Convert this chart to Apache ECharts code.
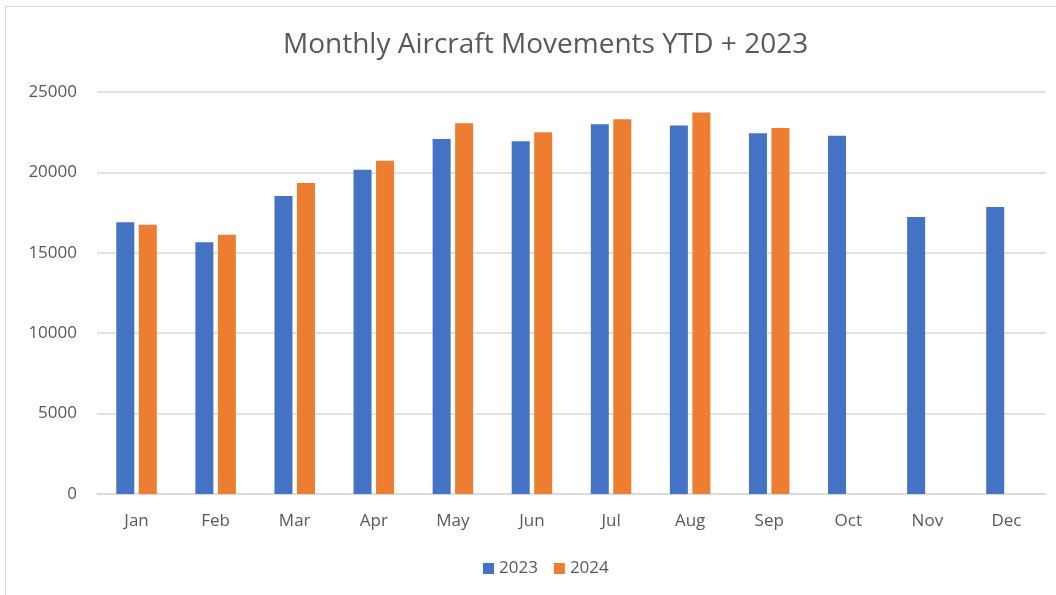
<!DOCTYPE html>
<html>
<head>
<meta charset="utf-8">
<script src="https://cdn.jsdelivr.net/npm/echarts@6/dist/echarts.min.js"></script>
<style>
  html, body { margin: 0; padding: 0; background: #fff; }
  .frame { position: absolute; left: 5px; top: 6px; width: 1060px; height: 600px; border: 1px solid #d9d9d9; }
  #chart { width: 1056px; height: 595px; }
</style>
</head>
<body>
<div class="frame"></div>
<div id="chart"></div>
<script>
// 月份与两年的起降架次
const months = ['Jan', 'Feb', 'Mar', 'Apr', 'May', 'Jun', 'Jul', 'Aug', 'Sep', 'Oct', 'Nov', 'Dec']
const movements2023 = [16900, 15650, 18530, 20170, 22080, 21930, 22990, 22910, 22430, 22280, 17230, 17850]
const movements2024 = [16750, 16130, 19340, 20730, 23050, 22490, 23300, 23730, 22760, null, null, null]
const yTicks = [0, 5000, 10000, 15000, 20000, 25000]

const myChart = echarts.init(document.getElementById('chart'))
const font = '"Open Sans", "Noto Sans", sans-serif'
const option = {
  animation: false,
  textStyle: { fontFamily: font, color: '#595959' },
  title: {
    text: 'Monthly Aircraft Movements YTD + 2023',
    left: 278,
    top: 26,
    textStyle: { fontFamily: font, fontSize: 28, fontWeight: 'normal', color: '#595959' }
  },
  legend: {
    bottom: 13,
    left: 478,
    itemWidth: 11,
    itemHeight: 11,
    itemGap: 16,
    icon: 'rect',
    textStyle: { fontFamily: font, fontSize: 17, color: '#595959' }
  },
  grid: { left: 97, right: 10, top: 92, bottom: 101, containLabel: false },
  xAxis: {
    type: 'category',
    data: months,
    axisTick: { show: false },
    axisLine: { lineStyle: { color: '#d9d9d9', width: 1.5 } },
    axisLabel: { fontSize: 17, color: '#595959', margin: 19, fontFamily: font }
  },
  yAxis: {
    type: 'value',
    min: yTicks[0],
    max: yTicks[yTicks.length - 1],
    interval: 5000,
    axisLine: { show: false },
    axisTick: { show: false },
    axisLabel: { fontSize: 17, color: '#595959', margin: 20, fontFamily: font, formatter: v => String(v) },
    splitLine: { lineStyle: { color: '#d9d9d9', width: 1.5 } }
  },
  series: [
    {
      name: '2023',
      type: 'bar',
      data: movements2023,
      barWidth: 18,
      barGap: '25%',
      itemStyle: { color: '#4472c4' }
    },
    {
      name: '2024',
      type: 'bar',
      data: movements2024,
      barWidth: 18,
      itemStyle: { color: '#ed7d31' }
    }
  ]
}
myChart.setOption(option)
</script>
</body>
</html>
